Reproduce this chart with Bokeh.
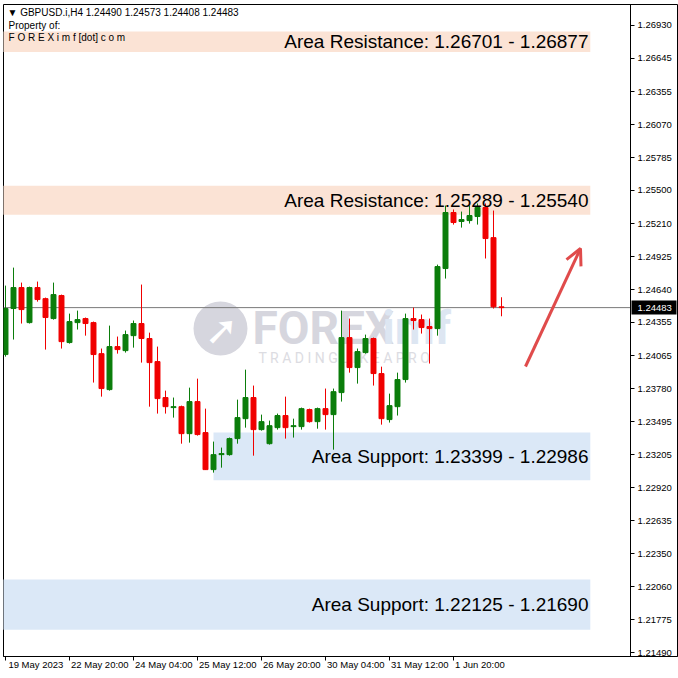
from bokeh.plotting import figure
from bokeh.models import (Range1d, FixedTicker, PrintfTickFormatter, Arrow, OpenHead)
from bokeh.embed import file_html
from bokeh.resources import INLINE
from bokeh.core.properties import value

# ---- GBPUSD H4 candles (bar index 0 = 19 May 2023 12:00) ----
symbol = "GBPUSD.i,H4"
opens = [1.24076, 1.24475, 1.24657, 1.24353, 1.24657, 1.24561, 1.24388, 1.24588, 1.24180, 1.24353,
         1.24388, 1.24353, 1.24084, 1.23772, 1.24145, 1.24110, 1.24240, 1.24345, 1.24215, 1.24015,
         1.23703, 1.23616, 1.23624, 1.23390, 1.23668, 1.23399, 1.23078, 1.23208, 1.23208, 1.23347,
         1.23520, 1.23703, 1.23425, 1.23303, 1.23442, 1.23547, 1.23451, 1.23451, 1.23599, 1.23494,
         1.23607, 1.23555, 1.23746, 1.24223, 1.23963, 1.24093, 1.24215, 1.23911, 1.23512, 1.23624,
         1.23859, 1.24388, 1.24379, 1.24319, 1.24301, 1.24822, 1.25308, 1.25230, 1.25238, 1.25273,
         1.25351, 1.25090, 1.24490]
highs = [1.24674, 1.24830, 1.24700, 1.24665, 1.24709, 1.24570, 1.24700, 1.24596, 1.24431, 1.24457,
         1.24397, 1.24362, 1.24128, 1.24327, 1.24232, 1.24284, 1.24371, 1.24683, 1.24266, 1.24145,
         1.23763, 1.23703, 1.23633, 1.23789, 1.23867, 1.23607, 1.23321, 1.23269, 1.23356, 1.23685,
         1.23945, 1.23807, 1.23555, 1.23503, 1.23564, 1.23711, 1.23520, 1.23616, 1.23607, 1.23616,
         1.23781, 1.23781, 1.24457, 1.24388, 1.24128, 1.24249, 1.24223, 1.23971, 1.23737, 1.23919,
         1.24431, 1.24483, 1.24423, 1.24388, 1.24856, 1.25368, 1.25334, 1.25316, 1.25368, 1.25386,
         1.25386, 1.25325, 1.24573]
lows = [1.24058, 1.24206, 1.24345, 1.24345, 1.24535, 1.24119, 1.24379, 1.24128, 1.24171, 1.24293,
        1.24240, 1.23833, 1.23711, 1.23763, 1.24084, 1.24093, 1.24136, 1.24006, 1.23624, 1.23564,
        1.23564, 1.23529, 1.23303, 1.23312, 1.23373, 1.23075, 1.23052, 1.23095, 1.23199, 1.23303,
        1.23442, 1.23199, 1.23416, 1.23295, 1.23425, 1.23347, 1.23356, 1.23425, 1.23486, 1.23433,
        1.23425, 1.23251, 1.23668, 1.23919, 1.23824, 1.24084, 1.23807, 1.23468, 1.23486, 1.23547,
        1.23833, 1.24293, 1.24258, 1.23998, 1.24240, 1.24735, 1.25203, 1.25177, 1.25212, 1.25203,
        1.24909, 1.24475, 1.24408]
closes = [1.24475, 1.24657, 1.24466, 1.24657, 1.24553, 1.24397, 1.24596, 1.24188, 1.24362, 1.24379,
          1.24345, 1.24076, 1.23781, 1.24145, 1.24119, 1.24249, 1.24345, 1.24215, 1.24006, 1.23694,
          1.23624, 1.23624, 1.23390, 1.23668, 1.23382, 1.23078, 1.23208, 1.23217, 1.23347, 1.23529,
          1.23703, 1.23425, 1.23494, 1.23459, 1.23547, 1.23442, 1.23459, 1.23607, 1.23494, 1.23607,
          1.23555, 1.23754, 1.24223, 1.23963, 1.24102, 1.24215, 1.23911, 1.23520, 1.23633, 1.23859,
          1.24388, 1.24371, 1.24310, 1.24301, 1.24839, 1.25308, 1.25221, 1.25247, 1.25282, 1.25351,
          1.25082, 1.24490, 1.24483]

# time axis labels, one every 8 bars
time_tick_bars = [0, 8, 16, 24, 32, 40, 48, 56]
time_tick_labels = ["19 May 2023", "22 May 20:00", "24 May 04:00", "25 May 12:00",
                    "26 May 20:00", "30 May 04:00", "31 May 12:00", "1 Jun 20:00"]

# price axis ticks
price_ticks = [1.26930, 1.26645, 1.26355, 1.26070, 1.25785, 1.25500, 1.25210, 1.24925,
               1.24640, 1.24355, 1.24065, 1.23780, 1.23495, 1.23205, 1.22920, 1.22635,
               1.22350, 1.22060, 1.21775, 1.21490]

# supply / demand zones (bounds in the order they are quoted)
zone_names = ["Area Resistance", "Area Resistance", "Area Support", "Area Support"]
zone_first = [1.26701, 1.25289, 1.23399, 1.22125]
zone_second = [1.26877, 1.25540, 1.22986, 1.21690]
zone_start_bar = [-3, -3, 26, -3]
zone_end_bar = 73.1

# ---- layout ----
# the plotting area runs to the right edge; the price scale sits inside it at PRICE_PX
W, H = 678, 678
B_LEFT, B_RIGHT, B_TOP, B_BOTTOM = 3, 1, 4, 22
FRAME_W = W - B_LEFT - B_RIGHT
FRAME_H = H - B_TOP - B_BOTTOM
PX_PER_BAR = 8.0
PRICE_PX = 630
x_lo = -0.25
x_hi = x_lo + FRAME_W / PX_PER_BAR
y_hi = 1.27112
y_lo = y_hi - FRAME_H / 11530.0


def y_at(py):
    """price at a pixel row of the page"""
    return y_hi - (py - B_TOP) / FRAME_H * (y_hi - y_lo)


def x_at(px):
    """bar position at a pixel column of the page"""
    return x_lo + (px - B_LEFT) / PX_PER_BAR


def px_of(x):
    return B_LEFT + (x - x_lo) * PX_PER_BAR


UP, DOWN = "#0b7d0b", "#f00000"
RES_FILL, SUP_FILL = "#fbe3d5", "#dbe8f7"
FONT = "Liberation Sans"
AX_SIZE = 9.5
NBSP_W = 0.278 * AX_SIZE

# Arial-metric advance widths (em) used to left-align the time labels after their tick
_ADV = {" ": 0.278, ":": 0.278, "M": 0.833, "J": 0.5, "a": 0.556, "y": 0.5,
        "u": 0.556, "n": 0.556}


def left_aligned(label, bar, gap_px=2.0):
    w = sum(_ADV.get(ch, 0.556) for ch in label) * AX_SIZE
    n = int(round((w + 2 * gap_px) / NBSP_W))
    if px_of(bar) - (n * NBSP_W + w) / 2 < 0:
        # the renderer keeps the first label inside the canvas: pad only the gap
        n = int(round((px_of(bar) + gap_px) / NBSP_W))
    return "\u00a0" * n + label


def bare_axis(ax):
    ax.minor_tick_out = 0
    ax.minor_tick_in = 0
    ax.major_tick_in = 0


p = figure(width=W, height=H, output_backend="svg", toolbar_location=None,
           x_range=Range1d(x_lo, x_hi), y_range=Range1d(y_lo, y_hi),
           y_axis_location="right",
           min_border_left=B_LEFT, min_border_right=B_RIGHT,
           min_border_top=B_TOP, min_border_bottom=B_BOTTOM)
p.xgrid.visible = False
p.ygrid.visible = False
p.outline_line_color = "black"
p.outline_line_width = 1
p.background_fill_color = "white"
p.border_fill_color = "white"

# price axis
ya = p.yaxis[0]
ya.fixed_location = x_at(PRICE_PX)
ya.ticker = FixedTicker(ticks=price_ticks)
ya.formatter = PrintfTickFormatter(format="%.5f")
bare_axis(ya)
ya.major_tick_out = 4
ya.major_label_standoff = 3
ya.axis_line_color = "black"
ya.major_tick_line_color = "black"
ya.major_label_text_font = FONT
ya.major_label_text_font_size = f"{AX_SIZE}px"
ya.major_label_text_color = "black"

# time axis
xa = p.xaxis[0]
xa.ticker = FixedTicker(ticks=time_tick_bars)
xa.major_label_overrides = {b: left_aligned(t, b) for b, t in zip(time_tick_bars, time_tick_labels)}
xa.major_label_text_font = FONT
xa.major_label_text_font_size = f"{AX_SIZE}px"
xa.major_label_text_color = "black"
xa.major_label_standoff = -2
bare_axis(xa)
xa.major_tick_out = 4
xa.axis_line_color = "black"

# zones
left = [max(s, x_lo - 1) for s in zone_start_bar]
p.quad(left=left, right=[zone_end_bar] * 4,
       bottom=[min(a, b) for a, b in zip(zone_first, zone_second)],
       top=[max(a, b) for a, b in zip(zone_first, zone_second)],
       fill_color=[RES_FILL if n.endswith("Resistance") else SUP_FILL for n in zone_names],
       line_color=None)

# watermark
p.scatter(x=[x_at(220)], y=[y_at(328)], size=54, marker="circle",
          fill_color="#d6d6de", line_color=None)
p.text(x=[x_at(221)], y=[y_at(329)], text=["➚"], text_font=value("DejaVu Sans"),
       text_font_size="40px", text_font_style="bold", text_color="white",
       text_align="center", text_baseline="middle")
p.text(x=[x_at(252)], y=[y_at(327)], text=["FOREX"], text_font=value("Roboto"),
       text_font_size="46px", text_font_style="bold", text_color="#d6d6de",
       text_align="left", text_baseline="middle")
p.text(x=[x_at(382)], y=[y_at(327)], text=["imf"], text_font=value("Roboto"),
       text_font_size="46px", text_font_style="bold", text_color="#dde6f2",
       text_align="left", text_baseline="middle")
p.text(x=[x_at(258)], y=[y_at(357)], text=["T R A D I N G   L I K E   A   P R O"],
       text_font=value("Roboto"), text_font_size="14px", text_color="#dcdce2",
       text_align="left", text_baseline="middle")

# current price line
last = closes[-1]
p.segment(x0=[x_lo], y0=[last], x1=[x_at(PRICE_PX)], y1=[last],
          line_color="#7a7a7a", line_width=1)

# candles
idx = list(range(len(opens)))
colors = [UP if c >= o else DOWN for o, c in zip(opens, closes)]
p.segment(x0=idx, y0=lows, x1=idx, y1=highs, line_color=colors, line_width=1)
p.vbar(x=idx, width=0.62, bottom=[min(o, c) for o, c in zip(opens, closes)],
       top=[max(o, c) for o, c in zip(opens, closes)],
       fill_color=colors, line_color=colors, line_width=1)

# current price tag on the price scale
half_tag = 7 * (y_hi - y_lo) / FRAME_H
p.quad(left=[x_at(PRICE_PX + 1)], right=[x_at(676)], bottom=[last - half_tag],
       top=[last + half_tag], fill_color="black", line_color=None)
p.text(x=[x_at(PRICE_PX + 7)], y=[last], text=[f"{last:.5f}"], text_font=value(FONT),
       text_font_size=f"{AX_SIZE}px", text_color="white", text_align="left",
       text_baseline="middle")

# zone captions
p.text(x=[x_at(588)] * 4, y=[(a + b) / 2 for a, b in zip(zone_first, zone_second)],
       text=[f"{n}: {a:.5f} - {b:.5f}" for n, a, b in zip(zone_names, zone_first, zone_second)],
       text_font=value(FONT), text_font_size="19px", text_color="black",
       text_align="right", text_baseline="middle")

# expected move
p.add_layout(Arrow(end=OpenHead(size=16, line_color="#e04b4b", line_width=3),
                   x_start=x_at(525), y_start=y_at(366), x_end=x_at(580), y_end=y_at(248),
                   line_color="#e04b4b", line_width=3))

# header
header = (f"▼ {symbol}  {opens[-1]:.5f} {highs[-1]:.5f} {lows[-1]:.5f} {closes[-1]:.5f}")
p.text(x=[x_at(7), x_at(8), x_at(8)], y=[y_at(12), y_at(25), y_at(37)],
       text=[header, "Property of:", "F O R E X i m f [dot] c o m"],
       text_font=value(FONT), text_font_size="10px", text_color="black",
       text_align="left", text_baseline="middle")

open("out.html", "w").write(file_html(p, INLINE))
